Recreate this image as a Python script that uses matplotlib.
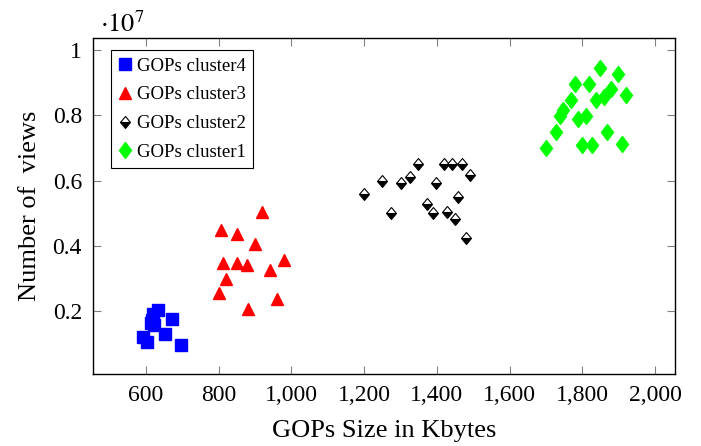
import matplotlib
matplotlib.use("Agg")
import matplotlib.pyplot as plt
from matplotlib.markers import MarkerStyle
from matplotlib.transforms import Affine2D
from matplotlib.ticker import FuncFormatter, MultipleLocator

plt.rcParams['font.family'] = ['Liberation Serif', 'DejaVu Serif']
plt.rcParams['mathtext.fontset'] = 'stix'

# number of views in units of 1e7
size_c4 = [592, 603, 614, 622, 619, 633, 652, 671, 696, 618]
views_c4 = [0.120, 0.105, 0.163, 0.157, 0.191, 0.203, 0.130, 0.175, 0.096, 0.172]

size_c3 = [920, 806, 850, 900, 811, 850, 877, 980, 941, 820, 800, 960, 880]
views_c3 = [0.504, 0.448, 0.435, 0.405, 0.346, 0.346, 0.341, 0.356, 0.326, 0.297, 0.256, 0.237, 0.207]

size_c2 = [1349, 1420, 1441, 1470, 1490, 1249, 1325, 1301, 1399, 1200, 1459, 1275, 1374, 1389, 1429, 1450, 1479]
views_c2 = [0.650, 0.650, 0.650, 0.650, 0.616, 0.599, 0.611, 0.591, 0.591, 0.560, 0.550, 0.502, 0.528, 0.501, 0.504, 0.481, 0.423]

size_c1 = [1848, 1899, 1779, 1819, 1878, 1919, 1839, 1859, 1769, 1748, 1738, 1789, 1810, 1729, 1868, 1699, 1798, 1828, 1909]
views_c1 = [0.946, 0.928, 0.897, 0.897, 0.882, 0.862, 0.846, 0.856, 0.846, 0.816, 0.797, 0.788, 0.798, 0.749, 0.749, 0.700, 0.708, 0.708, 0.713]

fig = plt.figure(figsize=(7.01, 4.46), dpi=100)
ax = fig.add_axes([0.1327, 0.1614, 0.8303, 0.7534])

squash = Affine2D().scale(0.72, 1.0)
half_diamond = MarkerStyle('D', fillstyle='bottom', transform=squash)
full_diamond = MarkerStyle('D', transform=squash)

ax.plot(size_c4, views_c4, linestyle='none', marker='s', markersize=8.5,
        color='#0000ff', label='GOPs cluster4')
ax.plot(size_c3, views_c3, linestyle='none', marker='^', markersize=8.5,
        color='#ff0000', label='GOPs cluster3')
ax.plot(size_c2, views_c2, linestyle='none', marker=half_diamond, markersize=6.5,
        markerfacecolor='black', markerfacecoloralt='white',
        markeredgecolor='black', markeredgewidth=0.8, label='GOPs cluster2')
ax.plot(size_c1, views_c1, linestyle='none', marker=full_diamond, markersize=8,
        color='#00ff00', label='GOPs cluster1')

ax.set_xlim(455, 2055)
ax.set_ylim(0.007, 1.037)
ax.xaxis.set_major_locator(MultipleLocator(200))
ax.yaxis.set_major_locator(MultipleLocator(0.2))
ax.xaxis.set_major_formatter(FuncFormatter(lambda v, p: '{:,.0f}'.format(v)))
ax.yaxis.set_major_formatter(FuncFormatter(lambda v, p: '{:g}'.format(round(v, 2))))
ax.tick_params(direction='in', length=6, width=0.8, color='#808080',
               top=True, right=True, labelsize=17, pad=8)
for s in ax.spines.values():
    s.set_linewidth(1.0)

ax.set_xlabel('GOPs Size in Kbytes', fontsize=19, labelpad=10)
ax.set_ylabel('Number of  views', fontsize=19, labelpad=8)
fig.text(0.142, 0.945, r'$\cdot 10^7$', fontsize=19, ha='left', va='center')

leg = ax.legend(loc='upper left', bbox_to_anchor=(0.031, 0.964), fontsize=13.5,
                frameon=True, fancybox=False, edgecolor='black', framealpha=1,
                borderpad=0.4, labelspacing=0.62, handlelength=0.7,
                handletextpad=0.28, borderaxespad=0)
leg.get_frame().set_linewidth(0.8)

fig.savefig('out.png', dpi=100)
